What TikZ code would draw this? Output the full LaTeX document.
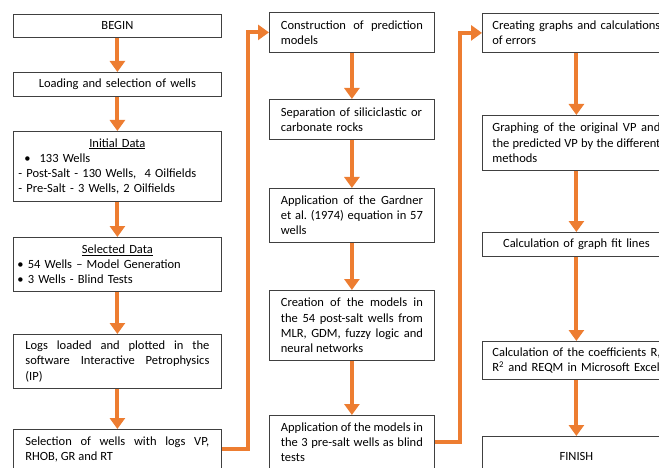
\documentclass[tikz,border=0pt]{standalone}
\usepackage{fontspec}
\setmainfont{Carlito}
\usepackage{xcolor}
\usetikzlibrary{positioning,arrows.meta}
\definecolor{flow}{RGB}{237,125,49}
\hyphenpenalty=10000
\tolerance=9999

\begin{document}
\begin{tikzpicture}[
      x=1pt, y=-1pt,
      box/.style={draw=black!75, line width=0.8pt, fill=white, anchor=north west, inner ysep=2pt, font=\fontsize{12.5}{15.2}\selectfont},
      colA/.style={box, text width=184pt, inner xsep=12pt},
      colB/.style={box, text width=142pt, inner xsep=11.5pt},
      colC/.style={box, text width=168pt, inner xsep=10pt},
      list/.style={align=left, inner xsep=4pt, text width=200pt},
      arr/.style={-{Triangle[length=11pt,width=15pt]}, line width=4pt, draw=flow, line join=miter}
  ]
    \useasboundingbox (0,0) rectangle (659,468);
    % first column
    \node[colA, align=center, minimum height=23pt] (begin) at (13,14) {BEGIN};
    \node[colA, align=center, minimum height=24pt] (load) at (13,72) {Loading and selection of wells};
    \node[colA, list, minimum height=70pt] (init) at (13,131) {\makebox[\linewidth]{\underline{Initial Data}}\\
      \hspace*{7pt}•\hspace{9pt}133 Wells\\
      \hspace*{1pt}- Post-Salt - 130 Wells,\ \ 4 Oilfields\\
      \hspace*{1pt}- Pre-Salt - 3 Wells, 2 Oilfields};
    \node[colA, list, minimum height=54pt] (chosen) at (13,237) {\makebox[\linewidth]{\underline{Selected Data}}\\
      • 54 Wells – Model Generation\\
      • 3 Wells - Blind Tests};
    \node[colA, align=justify, minimum height=54pt] (logs) at (13,334) {Logs loaded and plotted in the software Interactive Petrophysics (IP)};
    \node[colA, align=justify, minimum height=40pt] (select) at (13,429) {Selection of wells with logs VP, RHOB, GR and RT};
    % second column
    \node[colB, align=justify, minimum height=40pt] (construct) at (269,12) {Construction of prediction models};
    \node[colB, align=left, minimum height=40pt] (separate) at (269,99) {Separation of siliciclastic or carbonate rocks};
    \node[colB, align=justify, minimum height=54pt] (gardner) at (269,188) {Application of the Gardner et al.\ (1974) equation in 57 wells};
    \node[colB, align=justify, minimum height=70pt] (create) at (269,290) {Creation of the models in the 54 post-salt wells from MLR, GDM, fuzzy logic and neural networks};
    \node[colB, align=justify, minimum height=54pt] (blind) at (269,415) {Application of the models in the 3 pre-salt wells as blind tests};
    % third column
    \node[colC, align=justify, minimum height=39pt] (graphs) at (482,13) {Creating graphs and calculations of errors};
    \node[colC, align=justify, minimum height=55pt] (plot) at (482,115) {Graphing of the original VP and the predicted VP by the different methods};
    \node[colC, align=center, minimum height=24pt] (fit) at (482,232) {Calculation of graph fit lines};
    \node[colC, text width=182pt, align=left, minimum height=38pt] (coef) at (482,341) {Calculation of the coefficients R, R\textsuperscript{2} and REQM in Microsoft Excel};
    \node[colC, align=center, minimum height=40pt] (finish) at (482,436) {FINISH};
    % connectors
    \draw[arr] (begin) -- (load);
    \draw[arr] (load) -- (init);
    \draw[arr] (init) -- (chosen);
    \draw[arr] (chosen) -- (logs);
    \draw[arr] (logs) -- (select);
    \draw[arr] (construct) -- (separate);
    \draw[arr] (separate) -- (gardner);
    \draw[arr] (gardner) -- (create);
    \draw[arr] (create) -- (blind);
    \draw[arr] (graphs) -- (plot);
    \draw[arr] (plot) -- (fit);
    \draw[arr] (fit) -- (fit |- coef.north);
    \draw[arr] (coef.south -| fit) -- (finish);
    \draw[arr] (select.east) -- ++(26,0) |- (construct.west);
    \draw[arr] (blind.east) -- ++(25,0) |- (graphs.west);
  \end{tikzpicture}
\end{document}
